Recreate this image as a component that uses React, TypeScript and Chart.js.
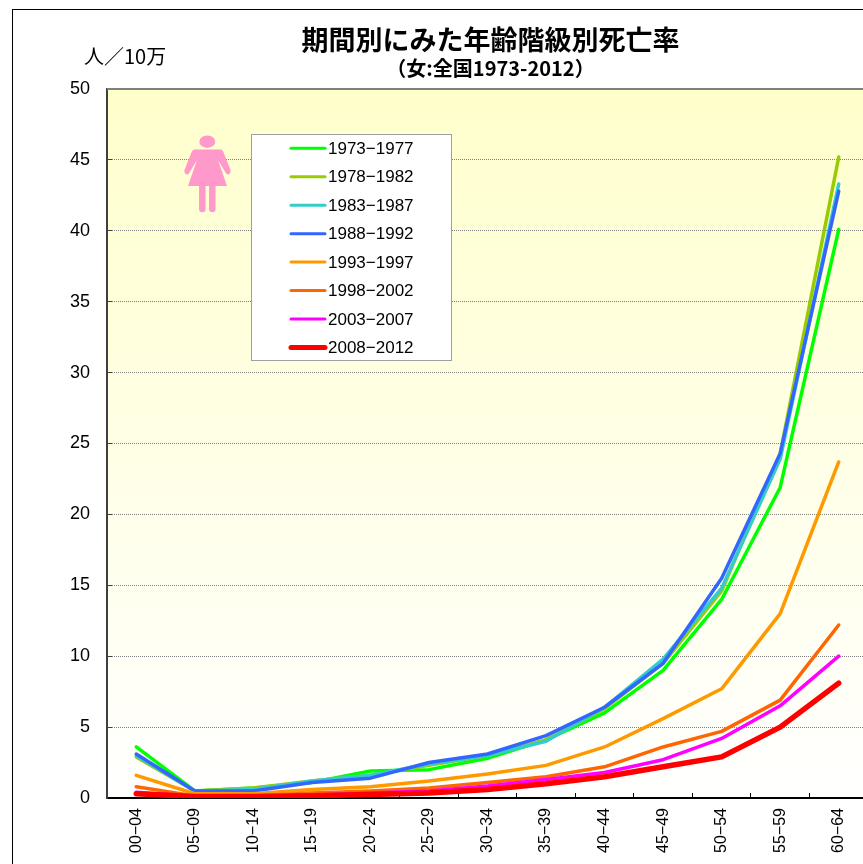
import React, { useEffect, useRef } from "react";
import { Chart, registerables } from "chart.js";

Chart.register(...registerables);

const ageGroups = ["00-04","05-09","10-14","15-19","20-24","25-29","30-34","35-39","40-44","45-49","50-54","55-59","60-64"].map((s) => s.replace("-", "−"));
const periods = ["1973-1977","1978-1982","1983-1987","1988-1992","1993-1997","1998-2002","2003-2007","2008-2012"];
const p1973 = [3.6,0.5,0.7,1.1,1.9,2.0,2.8,4.1,6.0,9.0,14.0,21.9,40.1];
const p1978 = [2.9,0.5,0.7,1.2,1.6,2.3,3.0,4.1,6.3,9.5,14.6,24.3,45.2];
const p1983 = [3.0,0.5,0.6,1.2,1.6,2.4,3.0,4.0,6.4,9.8,14.8,23.9,43.3];
const p1988 = [3.1,0.5,0.5,1.1,1.4,2.5,3.1,4.4,6.4,9.5,15.5,24.3,42.8];
const p1993 = [1.6,0.3,0.3,0.6,0.8,1.2,1.7,2.3,3.6,5.6,7.7,13.0,23.7];
const p1998 = [0.8,0.15,0.15,0.35,0.5,0.7,1.1,1.5,2.2,3.6,4.7,6.9,12.2];
const p2003 = [0.4,0.1,0.1,0.2,0.35,0.5,0.85,1.3,1.8,2.7,4.2,6.5,10.0];
const p2008 = [0.3,0.1,0.1,0.15,0.25,0.35,0.6,1.0,1.5,2.2,2.9,5.0,8.1];
const seriesValues = [p1973,p1978,p1983,p1988,p1993,p1998,p2003,p2008];
const seriesColors = ["#00FF00","#99CC00","#33CCCC","#3366FF","#FF9900","#FF6600","#FF00FF","#FF0000"];
const seriesWidths = [3.5,3.5,3.5,3.5,3.5,3.5,3.5,5.5];

const titleText = "期間別にみた年齢階級別死亡率";
const subtitleText = "（女:全国1973-2012）";
const unitText = "人／10万";
const latin = '"Liberation Sans", "Noto Sans CJK JP", sans-serif';
const cjk = '"Noto Sans CJK JP", sans-serif';

const decorations = {
  id: "decorations",
  afterLayout(chart: any) {
    chart.boxes.forEach((b: any) => {
      if (b.options && b.options.text) {
        b.left += 3;
        b.right += 3;
      }
    });
  },
  beforeDraw(chart: any) {
    const { ctx, chartArea: a } = chart;
    ctx.save();
    ctx.fillStyle = "#FFFFFF";
    ctx.fillRect(0, 0, chart.width, chart.height);
    ctx.strokeStyle = "#000000";
    ctx.lineWidth = 1;
    ctx.strokeRect(12.5, 9.5, chart.width + 20, chart.height + 20);
    const g = ctx.createLinearGradient(0, a.top, 0, a.bottom);
    g.addColorStop(0, "#FFFFCC");
    g.addColorStop(1, "#FFFFFF");
    ctx.fillStyle = g;
    ctx.fillRect(a.left, a.top, a.right - a.left, a.bottom - a.top);
    ctx.fillStyle = "#000000";
    ctx.font = `20px ${cjk}`;
    ctx.textAlign = "left";
    ctx.textBaseline = "middle";
    ctx.fillText(unitText, 84, 56);
    ctx.restore();
  },
  afterDraw(chart: any) {
    const { ctx } = chart;
    ctx.save();
    const a = chart.chartArea;
    ctx.strokeStyle = "#808080";
    ctx.lineWidth = 2;
    ctx.beginPath();
    ctx.moveTo(a.left, a.top);
    ctx.lineTo(a.right, a.top);
    ctx.stroke();
    // female pictogram
    ctx.fillStyle = "#FF99CC";
    ctx.strokeStyle = "#FF99CC";
    ctx.beginPath();
    ctx.ellipse(207.3, 141.7, 8, 6.2, 0, 0, Math.PI * 2);
    ctx.fill();
    ctx.beginPath();
    ctx.moveTo(194, 149.5);
    ctx.lineTo(221, 149.5);
    ctx.lineTo(223, 151);
    ctx.lineTo(230.5, 170);
    ctx.quadraticCurveTo(231, 174, 228, 174.5);
    ctx.quadraticCurveTo(226.5, 174.5, 225.5, 172.5);
    ctx.lineTo(218, 160);
    ctx.lineTo(227, 186);
    ctx.lineTo(188, 186);
    ctx.lineTo(197, 160);
    ctx.lineTo(189.5, 172.5);
    ctx.quadraticCurveTo(188.5, 174.5, 187, 174.5);
    ctx.quadraticCurveTo(184, 174, 184.5, 170);
    ctx.lineTo(192, 151);
    ctx.closePath();
    ctx.fill();
    ctx.lineCap = "round";
    ctx.lineWidth = 6.5;
    ctx.beginPath();
    ctx.moveTo(202.3, 186);
    ctx.lineTo(202.3, 209);
    ctx.moveTo(212.3, 186);
    ctx.lineTo(212.3, 209);
    ctx.stroke();
    // legend
    ctx.fillStyle = "#FFFFFF";
    ctx.fillRect(251.5, 134.5, 200, 226);
    ctx.strokeStyle = "#A0A0A0";
    ctx.lineWidth = 1;
    ctx.strokeRect(251.5, 134.5, 200, 226);
    chart.data.datasets.forEach((d: any, i: number) => {
      const y = 148.3 + i * 28.45;
      ctx.strokeStyle = d.borderColor;
      ctx.lineWidth = d.borderWidth - 0.5;
      ctx.lineCap = "round";
      ctx.beginPath();
      ctx.moveTo(291, y);
      ctx.lineTo(325, y);
      ctx.stroke();
      ctx.fillStyle = "#000000";
      ctx.font = `17px ${latin}`;
      ctx.textAlign = "left";
      ctx.textBaseline = "middle";
      ctx.fillText(d.label.replace("-", "−"), 328, y + 1);
    });
    ctx.restore();
  },
};

export default function App() {
  const ref = useRef<HTMLCanvasElement>(null);
  useEffect(() => {
    const chart = new Chart(ref.current as HTMLCanvasElement, {
      type: "line",
      data: {
        labels: ageGroups,
        datasets: periods.map((label, i) => ({
          label,
          data: seriesValues[i],
          borderColor: seriesColors[i],
          backgroundColor: seriesColors[i],
          borderWidth: seriesWidths[i],
          pointRadius: 0,
          tension: 0,
          borderCapStyle: "round",
          borderJoinStyle: "round",
          order: periods.length - i,
        })),
      },
      options: {
        animation: false,
        responsive: false,
        layout: { padding: { top: 24, right: 7, left: 0, bottom: 0 } },
        plugins: {
          legend: { display: false },
          tooltip: { enabled: false },
          title: {
            display: true,
            text: titleText,
            color: "#000000",
            fullSize: false,
            font: { family: cjk, size: 27, weight: "bold", lineHeight: 1.2 },
            padding: { top: 0, bottom: 0 },
          },
          subtitle: {
            display: true,
            text: subtitleText,
            color: "#000000",
            fullSize: false,
            font: { family: cjk, size: 20, weight: "bold", lineHeight: 1.2 },
            padding: { top: 0, bottom: 8.6 },
          },
        },
        scales: {
          x: {
            offset: true,
            afterFit(s: any) { s.height = 66; },
            grid: { display: true, drawOnChartArea: false, offset: true, tickLength: -5, tickColor: "#000000", tickWidth: 1 },
            border: { color: "#000000", width: 2 },
            ticks: { color: "#000000", autoSkip: false, minRotation: 90, maxRotation: 90, padding: 15, font: { family: latin, size: 16 } },
          },
          y: {
            min: 0,
            max: 50,
            afterFit(s: any) { s.width = 107; },
            grid: { color: "#808080", lineWidth: 1, tickLength: -5, tickColor: "#404040", tickBorderDash: [], tickWidth: 1 },
            border: { color: "#404040", width: 2, dash: [1, 1] },
            ticks: { stepSize: 5, color: "#000000", padding: 22, font: { family: latin, size: 18 } },
          },
        },
      },
      plugins: [decorations],
    } as any);
    return () => chart.destroy();
  }, []);
  return (
    <div style={{ position: "absolute", left: 0, top: 0, width: 863, height: 864, overflow: "hidden" }}>
      <canvas ref={ref} width={875} height={864} style={{ display: "block" }} />
    </div>
  );
}
